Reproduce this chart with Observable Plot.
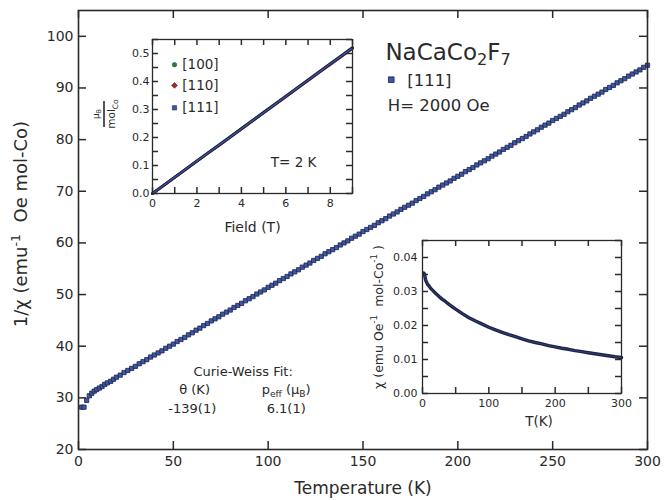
<!DOCTYPE html>
<html>
<head>
<meta charset="utf-8">
<script src="https://cdn.jsdelivr.net/npm/d3@7"></script>
<script src="https://cdn.jsdelivr.net/npm/@observablehq/plot@0.6"></script>
<style>
  body { margin: 0; background: #fff; }
  #chart { position: relative; width: 664px; height: 500px; font-family: "DejaVu Sans", sans-serif; }
  #chart svg { position: absolute; }
</style>
</head>
<body>
<div id="chart"></div>
<script>
// ---------------- data ----------------
// main panel: 1/chi vs T, [111], H = 2000 Oe
const mainT = [1.7, 2.9, 4.3, 5.7, 7.0, 8.3, 9.6, 11.0, 12.4, 13.8, 15.2, 17.0, 18.5,
  20, 22, 24, 26, 28, 30, 32, 34, 36, 38,
  40, 42, 44, 46, 48, 50, 52, 54, 56, 58,
  60, 62, 64, 66, 68, 70, 72, 74, 76, 78,
  80, 82, 84, 86, 88, 90, 92, 94, 96, 98,
  100, 102, 104, 106, 108, 110, 112, 114, 116, 118,
  120, 122, 124, 126, 128, 130, 132, 134, 136, 138,
  140, 142, 144, 146, 148, 150, 152, 154, 156, 158,
  160, 162, 164, 166, 168, 170, 172, 174, 176, 178,
  180, 182, 184, 186, 188, 190, 192, 194, 196, 198,
  200, 202, 204, 206, 208, 210, 212, 214, 216, 218,
  220, 222, 224, 226, 228, 230, 232, 234, 236, 238,
  240, 242, 244, 246, 248, 250, 252, 254, 256, 258,
  260, 262, 264, 266, 268, 270, 272, 274, 276, 278,
  280, 282, 284, 286, 288, 290, 292, 294, 296, 298, 300];
const mainInvChi = [28.2, 28.2, 29.5, 30.4, 30.9, 31.3, 31.6, 31.9, 32.2, 32.6, 32.9, 33.2, 33.6,
  34.0, 34.4, 34.9, 35.3, 35.7, 36.1, 36.6, 37.0, 37.4, 37.9,
  38.3, 38.7, 39.1, 39.6, 40.0, 40.4, 40.9, 41.3, 41.7, 42.2,
  42.6, 43.1, 43.5, 44.0, 44.4, 44.9, 45.3, 45.7, 46.2, 46.6,
  47.0, 47.5, 47.9, 48.3, 48.8, 49.2, 49.6, 50.1, 50.5, 50.9,
  51.4, 51.8, 52.2, 52.7, 53.1, 53.5, 54.0, 54.4, 54.8, 55.3,
  55.7, 56.1, 56.6, 57.0, 57.4, 57.9, 58.3, 58.7, 59.1, 59.6,
  60.0, 60.4, 60.9, 61.3, 61.7, 62.2, 62.6, 63.0, 63.4, 63.9,
  64.3, 64.7, 65.2, 65.6, 66.0, 66.5, 66.9, 67.3, 67.7, 68.2,
  68.6, 69.0, 69.5, 69.9, 70.3, 70.8, 71.2, 71.6, 72.0, 72.5,
  72.9, 73.3, 73.8, 74.2, 74.6, 75.1, 75.5, 75.9, 76.3, 76.8,
  77.2, 77.6, 78.1, 78.5, 78.9, 79.4, 79.8, 80.2, 80.6, 81.1,
  81.5, 81.9, 82.4, 82.8, 83.2, 83.7, 84.1, 84.5, 84.9, 85.4,
  85.8, 86.2, 86.7, 87.1, 87.5, 88.0, 88.4, 88.8, 89.2, 89.7,
  90.1, 90.5, 91.0, 91.4, 91.8, 92.3, 92.7, 93.1, 93.5, 94.0, 94.4];

// inset (lower right): chi vs T
const chiT = [2, 3, 4, 5, 6, 8, 10, 12, 15, 20, 25, 30, 35, 40, 45, 50, 60, 70, 80, 90,
  100, 110, 120, 130, 140, 150, 160, 170, 180, 190, 200, 210, 220, 230, 240, 250,
  260, 270, 280, 290, 300];
const chiVal = [0.0354, 0.0352, 0.0340, 0.0332, 0.0328, 0.0320, 0.0316, 0.0310, 0.0304, 0.0294,
  0.0285, 0.0277, 0.0270, 0.0262, 0.0255, 0.0248, 0.0235, 0.0223, 0.0213, 0.0204,
  0.0195, 0.0187, 0.0180, 0.0173, 0.0167, 0.0161, 0.0155, 0.0150, 0.0146, 0.0141,
  0.0137, 0.0133, 0.0130, 0.0126, 0.0123, 0.0120, 0.0117, 0.0114, 0.0111, 0.0108, 0.0106];

// inset (upper left): M vs H at T = 2 K
const fieldH = [0, 0.5, 1, 1.5, 2, 2.5, 3, 3.5, 4, 4.5, 5, 5.5, 6, 6.5, 7, 7.5, 8, 8.5, 9];
const m100 = [0, 0.029, 0.058, 0.087, 0.116, 0.145, 0.174, 0.203, 0.232, 0.261, 0.290, 0.319, 0.348, 0.377, 0.406, 0.435, 0.464, 0.493, 0.522];
const m110 = [0, 0.028, 0.057, 0.086, 0.115, 0.144, 0.172, 0.201, 0.230, 0.259, 0.288, 0.316, 0.345, 0.374, 0.403, 0.432, 0.460, 0.489, 0.518];
const m111 = [0, 0.029, 0.058, 0.087, 0.116, 0.145, 0.173, 0.202, 0.231, 0.260, 0.289, 0.318, 0.347, 0.376, 0.405, 0.434, 0.463, 0.491, 0.520];
const mhSeries = ["[100]", "[110]", "[111]"];

// ticks
const mainXTicks = [0, 50, 100, 150, 200, 250, 300];
const mainYTicks = [20, 30, 40, 50, 60, 70, 80, 90, 100];
const mhXLabels = [0, 2, 4, 6, 8];
const mhXTicks = [0, 1, 2, 3, 4, 5, 6, 7, 8, 9];
const mhYLabels = [0, 0.1, 0.2, 0.3, 0.4, 0.5];
const mhYTicks = [0, 0.05, 0.1, 0.15, 0.2, 0.25, 0.3, 0.35, 0.4, 0.45, 0.5, 0.55];
const chiXLabels = [0, 100, 200, 300];
const chiXTicks = [0, 50, 100, 150, 200, 250, 300];
const chiYLabels = [0, 0.01, 0.02, 0.03, 0.04];
const chiYTicks = [0, 0.005, 0.01, 0.015, 0.02, 0.025, 0.03, 0.035, 0.04, 0.045];

// ---------------- styling ----------------
const INK = "#2a2a2a";
const BLUE = "#3c58a8";
const NAVY = "#1d2142";
const GREEN = "#2e7d3a";
const RED = "#a52a2a";
const FONT = "DejaVu Sans";

const mainData = mainT.map((T, i) => ({T, v: mainInvChi[i]}));
const chiData = chiT.map((T, i) => ({T, chi: chiVal[i]}));
const mhData = fieldH.flatMap((H, i) => [
  {H, M: m100[i], s: mhSeries[0]},
  {H, M: m110[i], s: mhSeries[1]},
  {H, M: m111[i], s: mhSeries[2]}
]);

// frame ticks: labels outside + inward ticks (length in px) on all four sides
function frameAxes(o) {
  const {xLabels, xTicks, yLabels, yTicks, tick, fs, xFmt, yFmt, xPad, yPad, fw, fh, xd, yd} = o;
  const ly = tick * (yd[1] - yd[0]) / fh;   // tick length in y data units
  const lx = tick * (xd[1] - xd[0]) / fw;   // tick length in x data units
  const tk = {stroke: INK, strokeWidth: 1.5};
  return [
    Plot.axisX({anchor: "bottom", ticks: xLabels, tickSize: 0, tickPadding: xPad, tickFormat: xFmt, label: null, fontSize: fs}),
    Plot.axisY({anchor: "left", ticks: yLabels, tickSize: 0, tickPadding: yPad, tickFormat: yFmt, label: null, fontSize: fs}),
    Plot.ruleX(xTicks, {x: d => d, y1: yd[0], y2: yd[0] + ly, ...tk}),
    Plot.ruleX(xTicks, {x: d => d, y1: yd[1], y2: yd[1] - ly, ...tk}),
    Plot.ruleY(yTicks, {y: d => d, x1: xd[0], x2: xd[0] + lx, ...tk}),
    Plot.ruleY(yTicks, {y: d => d, x1: xd[1], x2: xd[1] - lx, ...tk})
  ];
}

// turn _{..} and ^{..} into sub/superscript tspans
function richify(svg) {
  d3.select(svg).selectAll("text").each(function() {
    const el = this;
    const s = el.textContent;
    if (!/[_^]\{/.test(s)) return;
    const fs = parseFloat(getComputedStyle(el).fontSize) || 14;
    el.textContent = "";
    const re = /([_^])\{([^}]*)\}/g;
    let last = 0, m, pending = 0;
    const add = (txt, dy, size) => {
      const t = document.createElementNS("http://www.w3.org/2000/svg", "tspan");
      t.textContent = txt;
      if (dy) t.setAttribute("dy", dy);
      if (size) t.setAttribute("font-size", size);
      el.appendChild(t);
    };
    while ((m = re.exec(s))) {
      if (m.index > last) { add(s.slice(last, m.index), pending); pending = 0; }
      const shift = m[1] === "_" ? 0.22 * fs : -0.42 * fs;
      add(m[2], pending + shift, 0.7 * fs);
      pending = -shift;
      last = re.lastIndex;
    }
    if (last < s.length) add(s.slice(last), pending);
  });
}

const chart = document.getElementById("chart");

// ---------------- main panel ----------------
const mainXD = [0, 300], mainYD = [20, 105];
const main = Plot.plot({
  width: 664, height: 500,
  marginLeft: 78, marginRight: 17, marginTop: 10, marginBottom: 51,
  style: {fontFamily: FONT, fontSize: "14px", color: INK, background: "white", overflow: "visible"},
  x: {domain: mainXD},
  y: {domain: mainYD},
  marks: [
    ...frameAxes({xLabels: mainXTicks, xTicks: mainXTicks, yLabels: mainYTicks, yTicks: mainYTicks, tick: 8, fs: 14,
      xFmt: d3.format("d"), yFmt: d3.format("d"), xPad: 7, yPad: 5, fw: 569, fh: 439, xd: mainXD, yd: mainYD}),
    Plot.dot(mainData, {x: "T", y: "v", symbol: "square", r: 2.4, fill: BLUE, stroke: NAVY, strokeWidth: 0.8}),
    Plot.frame({stroke: INK, strokeWidth: 1.6}),
    Plot.text(["Temperature (K)"], {frameAnchor: "bottom", textAnchor: "middle", lineAnchor: "middle", dy: 39, fontSize: 17, fill: INK}),
    Plot.text(["1/χ (emu^{-1}  Oe mol-Co)"], {frameAnchor: "left", textAnchor: "middle", lineAnchor: "middle", rotate: -90, dx: -57, dy: -6, fontSize: 18, fill: INK}),
    // legend / title block
    Plot.text(["NaCaCo_{2}F_{7}"], {x: 161.8, y: 95.4, textAnchor: "start", lineAnchor: "bottom", fontSize: 23, fill: INK}),
    Plot.dot(["[111]"], {x: 164.9, y: 91.6, symbol: "square", r: 3.2, fill: BLUE, stroke: NAVY, strokeWidth: 0.8}),
    Plot.text(["[111]"], {x: 173.3, y: 90.3, textAnchor: "start", lineAnchor: "bottom", fontSize: 16.5, fill: INK}),
    Plot.text(["H= 2000 Oe"], {x: 163.1, y: 85.5, textAnchor: "start", lineAnchor: "bottom", fontSize: 16.5, fill: INK}),
    // Curie-Weiss annotation
    Plot.text(["Curie-Weiss Fit:"], {x: 86.8, y: 34.3, lineAnchor: "bottom", fontSize: 13, fill: INK}),
    Plot.text(["θ (K)"], {x: 61.2, y: 30.65, lineAnchor: "bottom", fontSize: 13, fill: INK}),
    Plot.text(["p_{eff} (μ_{B})"], {x: 109.5, y: 30.65, lineAnchor: "bottom", fontSize: 13, fill: INK}),
    Plot.text(["-139(1)"], {x: 60.0, y: 27.0, lineAnchor: "bottom", fontSize: 13, fill: INK}),
    Plot.text(["6.1(1)"], {x: 109.5, y: 27.0, lineAnchor: "bottom", fontSize: 13, fill: INK})
  ]
});
main.style.left = "0px"; main.style.top = "0px";
chart.appendChild(main);
richify(main);

// ---------------- inset: M vs H ----------------
const mhXD = [0, 9], mhYD = [0, 0.55];
const mh = Plot.plot({
  width: 268, height: 201,
  marginLeft: 60, marginRight: 8, marginTop: 5, marginBottom: 42,
  style: {fontFamily: FONT, fontSize: "11px", color: INK, background: "transparent", overflow: "visible"},
  x: {domain: mhXD},
  y: {domain: mhYD},
  marks: [
    ...frameAxes({xLabels: mhXLabels, xTicks: mhXTicks, yLabels: mhYLabels, yTicks: mhYTicks, tick: 6, fs: 11,
      xFmt: d3.format("d"), yFmt: d3.format(".1f"), xPad: 6, yPad: 3, fw: 200, fh: 154, xd: mhXD, yd: mhYD}),
    Plot.line(mhData.filter(d => d.s === "[100]"), {x: "H", y: "M", stroke: GREEN, strokeWidth: 2.6}),
    Plot.line(mhData.filter(d => d.s === "[110]"), {x: "H", y: "M", stroke: RED, strokeWidth: 2.6}),
    Plot.line(mhData.filter(d => d.s === "[111]"), {x: "H", y: "M", stroke: NAVY, strokeWidth: 3}),
    Plot.line(mhData.filter(d => d.s === "[111]"), {x: "H", y: "M", stroke: BLUE, strokeWidth: 1.1}),
    Plot.frame({stroke: INK, strokeWidth: 1.3}),
    Plot.text(["Field (T)"], {frameAnchor: "bottom", textAnchor: "middle", lineAnchor: "middle", dy: 34, fontSize: 14, fill: INK}),
    Plot.text(["T= 2 K"], {x: 6.35, y: 0.093, lineAnchor: "bottom", fontSize: 13.5, fill: INK}),
    // legend
    Plot.dot(["[100]"], {x: 0.99, y: 0.46, r: 2.2, fill: GREEN, stroke: "#1f4a25", strokeWidth: 0.6}),
    Plot.dot(["[110]"], {x: 0.99, y: 0.386, symbol: "diamond2", r: 2.6, fill: RED, stroke: "#5a1515", strokeWidth: 0.6}),
    Plot.dot(["[111]"], {x: 0.99, y: 0.306, symbol: "square", r: 2.4, fill: BLUE, stroke: NAVY, strokeWidth: 0.6}),
    Plot.text(mhSeries, {x: 1.34, y: (d, i) => [0.46, 0.386, 0.306][i], textAnchor: "start", fontSize: 13.5, fill: INK})
  ]
});
mh.style.left = "92px"; mh.style.top = "34px";
chart.appendChild(mh);
// fraction label  μB / mol_Co
{
  const g = d3.select(mh).append("g")
    .attr("transform", "translate(12,80) rotate(-90)")
    .attr("fill", INK).attr("font-family", FONT);
  const num = g.append("text").attr("x", 0).attr("y", -5).attr("text-anchor", "middle").attr("font-size", 9);
  num.append("tspan").text("μ");
  num.append("tspan").attr("font-size", 6.5).attr("dy", 2).text("B");
  g.append("line").attr("x1", -13).attr("x2", 13).attr("y1", 0).attr("y2", 0)
    .attr("stroke", INK).attr("stroke-width", 1.6);
  const den = g.append("text").attr("x", 0).attr("y", 11).attr("text-anchor", "middle").attr("font-size", 10.5);
  den.append("tspan").text("mol");
  den.append("tspan").attr("font-size", 7.5).attr("dy", 2.5).text("Co");
}

// ---------------- inset: chi vs T ----------------
const chXD = [0, 300], chYD = [0, 0.045];
const ch = Plot.plot({
  width: 267, height: 198,
  marginLeft: 60, marginRight: 8, marginTop: 5, marginBottom: 40,
  style: {fontFamily: FONT, fontSize: "11px", color: INK, background: "transparent", overflow: "visible"},
  x: {domain: chXD},
  y: {domain: chYD},
  marks: [
    ...frameAxes({xLabels: chiXLabels, xTicks: chiXTicks, yLabels: chiYLabels, yTicks: chiYTicks, tick: 6, fs: 11,
      xFmt: d3.format("d"), yFmt: d3.format(".2f"), xPad: 6, yPad: 5, fw: 199, fh: 153, xd: chXD, yd: chYD}),
    Plot.line(chiData, {x: "T", y: "chi", stroke: NAVY, strokeWidth: 3.4}),
    Plot.line(chiData, {x: "T", y: "chi", stroke: BLUE, strokeWidth: 0.8, strokeOpacity: 0.7}),
    Plot.frame({stroke: INK, strokeWidth: 1.3}),
    Plot.text(["T(K)"], {frameAnchor: "bottom", textAnchor: "middle", lineAnchor: "middle", dx: 17, dy: 28, fontSize: 13.5, fill: INK}),
    Plot.text(["χ (emu Oe^{-1}  mol-Co^{-1} )"], {frameAnchor: "left", textAnchor: "middle", lineAnchor: "middle", rotate: -90, dx: -44, fontSize: 12.5, fill: INK})
  ]
});
ch.style.left = "361.7px"; ch.style.top = "235px";
chart.appendChild(ch);
richify(ch);
</script>
</body>
</html>
